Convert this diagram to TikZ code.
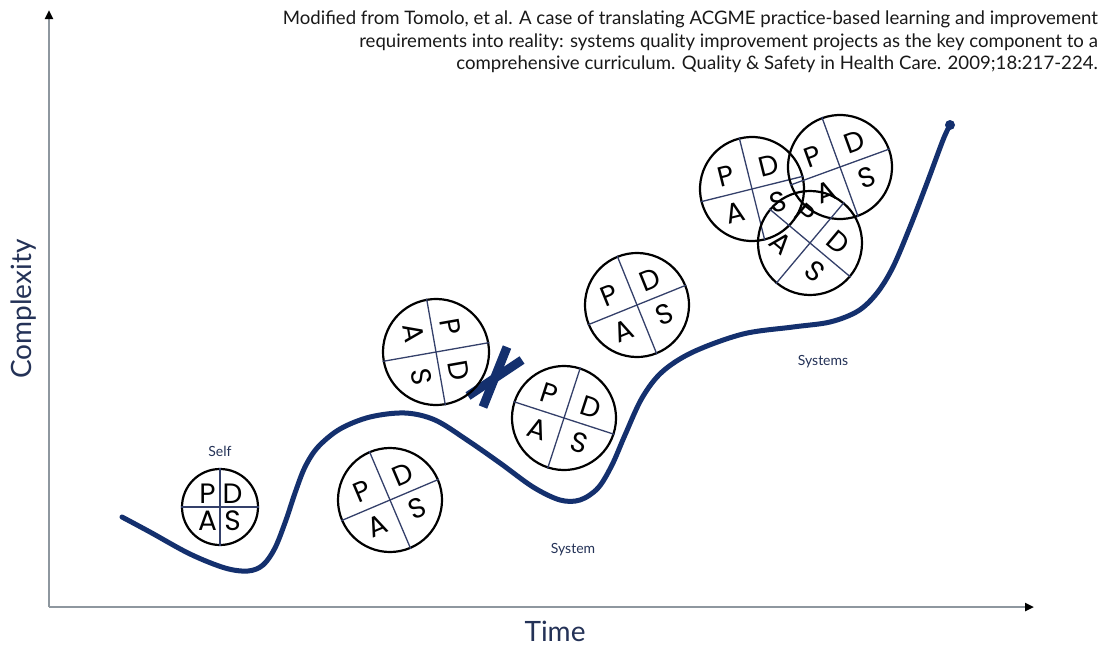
\documentclass[tikz,border=0pt]{standalone}
\usepackage{fontspec}
\setmainfont{Lato}
\newfontfamily\geofont{Poppins}
\usetikzlibrary{arrows.meta}
\definecolor{navy}{HTML}{14306E}
\definecolor{axisgray}{HTML}{8E979F}
\definecolor{lblue}{HTML}{243257}
\definecolor{crossc}{HTML}{34406A}
% #1 name, #2 x, #3 y, #4 radius, #5 angle, #6 horizontal letter offset factor
\newcommand{\pdsa}[6]{%
  \begin{scope}[shift={(#2,#3)}, rotate=#5, transform shape]
    \node[pdsacircle, minimum size=#4*2] (#1) at (0,0) {};
    \draw[crossline] (#1.north) -- (#1.south);
    \draw[crossline] (#1.west) -- (#1.east);
    \node[pdsaletter] (#1-P) at ({-#6*#4},{-0.36*#4}) {P};
    \node[pdsaletter] (#1-D) at ({#6*#4},{-0.36*#4}) {D};
    \node[pdsaletter] (#1-A) at ({-#6*#4},{0.36*#4}) {A};
    \node[pdsaletter] (#1-S) at ({#6*#4},{0.36*#4}) {S};
  \end{scope}}
\begin{document}
\begin{tikzpicture}[x=1pt,y=-1pt,
  axis/.style={draw=axisgray, line width=2.4pt, -{Triangle[length=9pt,width=8pt,black]}},
  curve/.style={draw=navy, line width=5pt, line cap=round, line join=round},
  enddot/.style={circle, fill=navy, inner sep=0pt, minimum size=10pt},
  pdsacircle/.style={circle, draw=black, line width=2.2pt, inner sep=0pt},
  crossline/.style={draw=crossc, line width=1.3pt},
  pdsaletter/.style={inner sep=0pt, font=\geofont\fontsize{28}{28}\selectfont, text=black},
  lbl/.style={text=lblue, font=\fontsize{14}{16}\selectfont},
  cite/.style={text=black!90, font=\fontsize{18.6}{22}\selectfont, inner sep=0pt},
  bigaxislabel/.style={text=lblue, font=\fontsize{28}{30}\selectfont},
  xmark/.style={draw=navy, line width=9pt}
]
\useasboundingbox[fill=white] (0,0) rectangle (1109,645);

% axes
\coordinate (origin) at (49,607);
\coordinate (ytop) at (49,10);
\coordinate (xend) at (1034,607);
\draw[axis] (origin) -- (ytop);
\draw[axis] (origin) -- (xend);
\node[bigaxislabel, rotate=90] (complexity) at (24,309) {Complexity};
\node[bigaxislabel] (time) at (555,631) {Time};

% citation
\node[cite, anchor=base east] (cite1) at (1098,24) {Modified from Tomolo, et al. A case of translating ACGME practice-based learning and improvement};
\node[cite, anchor=base east] (cite2) at (1098,47) {requirements into reality: systems quality improvement projects as the key component to a};
\node[cite, anchor=base east] (cite3) at (1098,69) {comprehensive curriculum. Quality \& Safety in Health Care. 2009;18:217-224.};

% curve
\draw[curve] plot[smooth, tension=0.55] coordinates {
 (122,517) (150,532) (190,554) (225,568) (248,571) (263,565) (275,548)
 (286,520) (295,493) (305,467) (318,447) (340,429) (370,417) (405,413)
 (435,420) (467,440) (500,463) (533,487) (560,500) (580,500) (598,488)
 (612,465) (625,435) (642,398) (662,372) (693,352) (743,334) (793,327)
 (830,322) (858,311) (877,293) (893,267) (910,227) (927,183) (943,140) (950,125)};
\node[enddot] (enddot) at (950,125) {};

% labels
\node[lbl] (self) at (220,451) {Self};
\node[lbl] (system) at (573,550) {System};
\node[lbl] (systems) at (823,362) {Systems};

% X mark
\coordinate (xa1) at (468,396); \coordinate (xa2) at (522,360);
\coordinate (xb1) at (483,407); \coordinate (xb2) at (507,347);
\draw[xmark] (xa1) -- (xa2);
\draw[xmark] (xb1) -- (xb2);

% PDSA cycles
\pdsa{selfc}{220}{507}{38}{0}{0.33}
\pdsa{c2}{390}{500}{52}{23}{0.42}
\pdsa{c3}{436}{352}{53}{-80}{0.42}
\pdsa{c4}{564}{418}{52}{-18}{0.42}
\pdsa{c5}{637}{305}{52}{22}{0.42}
\pdsa{c6}{752}{189}{52}{14}{0.42}
\pdsa{c7}{840}{167}{52}{20}{0.42}
\pdsa{c8}{810}{243}{52}{-40}{0.42}
\end{tikzpicture}
\end{document}
